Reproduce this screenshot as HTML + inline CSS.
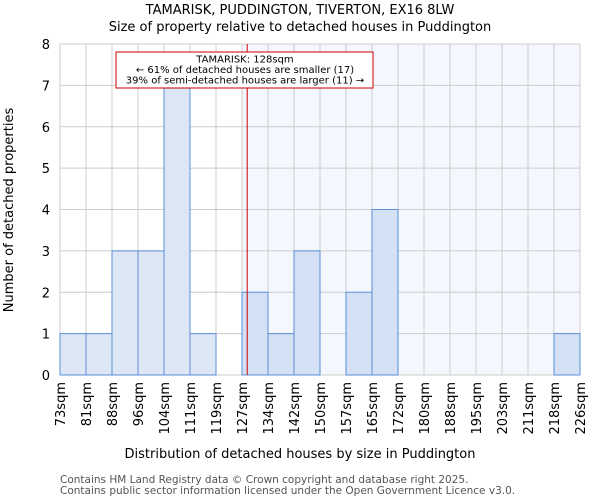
<!DOCTYPE html>
<html><head><meta charset="utf-8"><style>body{margin:0;background:#fff}svg{display:block}text{font-family:"DejaVu Sans","Liberation Sans",sans-serif}</style></head>
<body>
<svg id="c" width="600" height="500">
<text x="300" y="14" font-size="13" text-anchor="middle">TAMARISK, PUDDINGTON, TIVERTON, EX16 8LW</text>
<text x="300" y="31" font-size="13" text-anchor="middle">Size of property relative to detached houses in Puddington</text>
<g id="plot"></g>
<text x="300" y="458" font-size="13" text-anchor="middle">Distribution of detached houses by size in Puddington</text>
<text transform="translate(13,210) rotate(-90)" font-size="13" text-anchor="middle">Number of detached properties</text>
<text x="60" y="483" font-size="10.5" fill="#555">Contains HM Land Registry data © Crown copyright and database right 2025.</text>
<text x="60" y="494" font-size="10.5" fill="#555">Contains public sector information licensed under the Open Government Licence v3.0.</text>
</svg>
<script>
const binLabels=["73sqm","81sqm","88sqm","96sqm","104sqm","111sqm","119sqm","127sqm","134sqm","142sqm","150sqm","157sqm","165sqm","172sqm","180sqm","188sqm","195sqm","203sqm","211sqm","218sqm","226sqm"];
const counts=[1,1,3,3,7,1,0,2,1,3,0,2,4,0,0,0,0,0,0,1];
const yTicks=[0,1,2,3,4,5,6,7,8];
const propertyBin=7.2;
const highlightStartBin=7;
const NS="http://www.w3.org/2000/svg";
const L=60,R=580,T=44,B=375,yMax=8;
const n=counts.length;
const x=i=>L+(R-L)*i/n;
const y=v=>B-(B-T)*v/yMax;
const g=document.getElementById('plot');
function el(t,a){const e=document.createElementNS(NS,t);for(const k in a)e.setAttribute(k,a[k]);g.appendChild(e);return e;}
let e=el('rect',{x:x(highlightStartBin),y:T,width:R-x(highlightStartBin),height:B-T,fill:'#f4f7fd'});


for(let i=0;i<=n;i++){e=el('line',{x1:x(i),x2:x(i),y1:T,y2:B,stroke:'#ccc'});

}
yTicks.forEach(v=>{e=el('line',{x1:L,x2:R,y1:y(v),y2:y(v),stroke:'#ccc'});


const t=el('text',{x:L-10,y:y(v)+5,'font-size':13,'text-anchor':'end'});t.textContent=v;

});
counts.forEach((c,i)=>{if(c<=0)return;
const r=el('rect',{x:x(i),y:y(c),width:x(i+1)-x(i),height:y(0)-y(c),fill:i>=highlightStartBin?'#d4e0f3':'#dce6f4',stroke:'#5b8fd6','stroke-width':1});

});
binLabels.forEach((s,i)=>{const t=el('text',{transform:`translate(${x(i)+5},382) rotate(-90)`,'font-size':13,'text-anchor':'end'});t.textContent=s;

});
const px=x(propertyBin);
e=el('line',{x1:px,x2:px,y1:T,y2:B,stroke:'#c00','stroke-width':1});


e=el('rect',{x:116,y:52,width:257,height:36,fill:'#fff',stroke:'#c00'});


["TAMARISK: 128sqm","← 61% of detached houses are smaller (17)","39% of semi-detached houses are larger (11) →"].forEach((s,k)=>{const t=el('text',{x:245,y:62.5+k*10.5,'font-size':10,'text-anchor':'middle'});t.textContent=s;

});
</script>
</body></html>
